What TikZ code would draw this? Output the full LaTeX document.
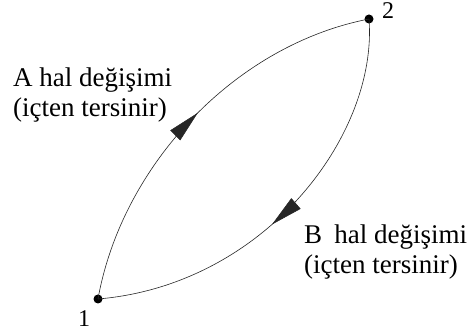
\documentclass[tikz,border=0pt]{standalone}
\usepackage{fontspec}
\setmainfont{Liberation Serif}
\usetikzlibrary{arrows.meta,decorations.markings}
\begin{document}
\begin{tikzpicture}[x=1pt,y=-1pt,
  dotnode/.style={circle,fill=black,inner sep=0pt,minimum size=9pt},
  curveline/.style={line width=0.6pt,draw=black!85},
  lbl/.style={inner sep=0pt,align=left,font=\fontsize{27}{30}\selectfont},
  numlbl/.style={inner sep=0pt,font=\fontsize{24}{26}\selectfont},
  arrowmark/.style={postaction={decorate},decoration={markings,
     mark=at position #1 with {\arrow{Triangle[length=32pt,width=14pt]}}}}]
\useasboundingbox (0,0) rectangle (471,336);
\node[dotnode] (p1) at (98,299) {};
\node[dotnode] (p2) at (369,19) {};
\node[numlbl,anchor=base] (n1) at (84,327) {1};
\node[numlbl,anchor=base] (n2) at (388,19) {2};
\draw[curveline,arrowmark=0.52] (p1.center) .. controls (122,165) and (235,45) .. (p2.center);
\draw[curveline,arrowmark=0.55] (p2.center) .. controls (378,135) and (265,285) .. (p1.center);
\node[lbl,anchor=base west] (la) at (13,117) {A hal değişimi\\(içten tersinir)};
\node[lbl,anchor=base west] (lb) at (304,274) {B\hspace{0.2em} hal değişimi\\(içten tersinir)};
\end{tikzpicture}
\end{document}
